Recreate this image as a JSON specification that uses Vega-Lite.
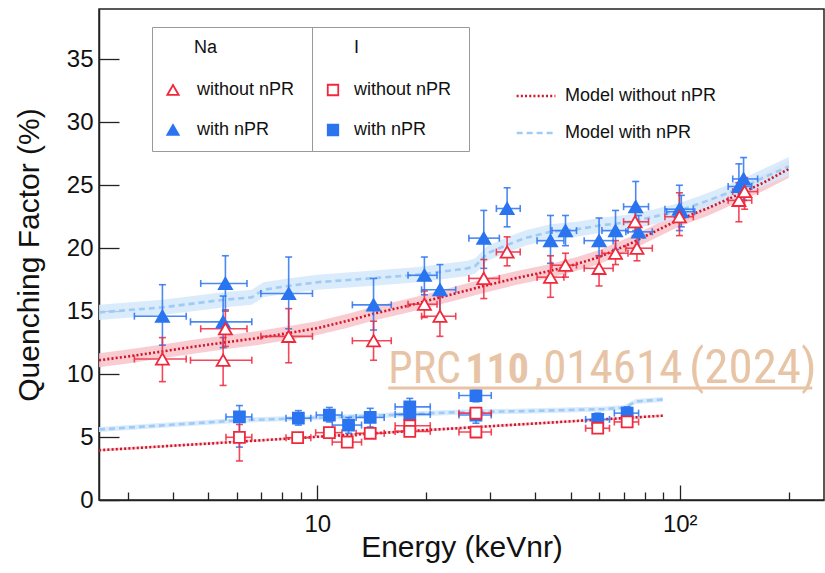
{
  "$schema": "https://vega.github.io/schema/vega-lite/v6.json",
  "width": 725,
  "height": 491,
  "autosize": {"type": "none"},
  "padding": {"left": 99, "top": 9, "right": 1, "bottom": 73},
  "background": "white",
  "config": {
    "view": {"stroke": "#222", "strokeWidth": 1.5},
    "font": "Liberation Sans",
    "axis": {"grid": false, "domainColor": "#222", "domainWidth": 1.5, "tickColor": "#222", "tickWidth": 1.3,
      "labelColor": "#111", "titleColor": "#111", "labelFont": "Liberation Sans", "titleFont": "Liberation Sans",
      "titleFontWeight": "normal", "labelFontSize": 24, "titleFontSize": 30},
    "legend": {"labelFont": "Liberation Sans", "titleFont": "Liberation Sans", "labelColor": "#111", "titleColor": "#111"}
  },
  "datasets": {
    "pts": [
      {"el":"Na","npr":"with nPR","E":3.74,"Elo":3.13,"Ehi":4.35,"Q":14.6,"Qlo":12.3,"Qhi":17.1},
      {"el":"Na","npr":"with nPR","E":5.58,"Elo":4.77,"Ehi":6.4,"Q":17.2,"Qlo":15.0,"Qhi":19.4},
      {"el":"Na","npr":"with nPR","E":5.5,"Elo":4.47,"Ehi":6.6,"Q":14.15,"Qlo":12.1,"Qhi":16.2},
      {"el":"Na","npr":"with nPR","E":8.34,"Elo":6.99,"Ehi":9.7,"Q":16.4,"Qlo":13.6,"Qhi":19.3},
      {"el":"Na","npr":"with nPR","E":14.3,"Elo":12.5,"Ehi":16.0,"Q":15.5,"Qlo":13.5,"Qhi":17.6},
      {"el":"Na","npr":"with nPR","E":19.75,"Elo":17.8,"Ehi":21.4,"Q":17.85,"Qlo":16.3,"Qhi":19.3},
      {"el":"Na","npr":"with nPR","E":21.8,"Elo":19.4,"Ehi":24.1,"Q":16.7,"Qlo":14.6,"Qhi":18.7},
      {"el":"Na","npr":"with nPR","E":28.8,"Elo":26.2,"Ehi":31.8,"Q":20.8,"Qlo":18.4,"Qhi":23.0},
      {"el":"Na","npr":"with nPR","E":33.4,"Elo":31.2,"Ehi":36.3,"Q":23.15,"Qlo":21.7,"Qhi":24.8},
      {"el":"Na","npr":"with nPR","E":44.0,"Elo":40.4,"Ehi":47.9,"Q":20.6,"Qlo":18.8,"Qhi":22.6},
      {"el":"Na","npr":"with nPR","E":48.4,"Elo":44.4,"Ehi":51.9,"Q":21.4,"Qlo":20.2,"Qhi":22.6},
      {"el":"Na","npr":"with nPR","E":59.9,"Elo":54.5,"Ehi":65.5,"Q":20.6,"Qlo":19.4,"Qhi":22.4},
      {"el":"Na","npr":"with nPR","E":66.5,"Elo":61,"Ehi":72,"Q":21.4,"Qlo":19.9,"Qhi":23.0},
      {"el":"Na","npr":"with nPR","E":75.6,"Elo":70,"Ehi":82,"Q":23.3,"Qlo":21.4,"Qhi":25.3},
      {"el":"Na","npr":"with nPR","E":77,"Elo":71,"Ehi":84,"Q":21.3,"Qlo":19.8,"Qhi":22.6},
      {"el":"Na","npr":"with nPR","E":99.8,"Elo":91,"Ehi":109,"Q":23.1,"Qlo":21.4,"Qhi":25.0},
      {"el":"Na","npr":"with nPR","E":101,"Elo":92,"Ehi":110,"Q":22.9,"Qlo":21.7,"Qhi":24.2},
      {"el":"Na","npr":"with nPR","E":145.6,"Elo":136,"Ehi":158,"Q":24.9,"Qlo":23.4,"Qhi":26.7},
      {"el":"Na","npr":"with nPR","E":150,"Elo":140,"Ehi":164,"Q":25.5,"Qlo":23.8,"Qhi":27.2},
      {"el":"Na","npr":"without nPR","E":3.74,"Elo":3.13,"Ehi":4.35,"Q":11.2,"Qlo":9.4,"Qhi":12.9},
      {"el":"Na","npr":"without nPR","E":5.5,"Elo":4.47,"Ehi":6.6,"Q":11.1,"Qlo":9.1,"Qhi":12.9},
      {"el":"Na","npr":"without nPR","E":5.58,"Elo":4.77,"Ehi":6.4,"Q":13.6,"Qlo":12.2,"Qhi":15.1},
      {"el":"Na","npr":"without nPR","E":8.34,"Elo":6.99,"Ehi":9.7,"Q":13.0,"Qlo":10.9,"Qhi":15.2},
      {"el":"Na","npr":"without nPR","E":14.3,"Elo":12.5,"Ehi":16.0,"Q":12.65,"Qlo":11.1,"Qhi":14.2},
      {"el":"Na","npr":"without nPR","E":19.75,"Elo":17.8,"Ehi":21.4,"Q":15.55,"Qlo":14.5,"Qhi":16.6},
      {"el":"Na","npr":"without nPR","E":21.8,"Elo":19.4,"Ehi":24.1,"Q":14.6,"Qlo":13.0,"Qhi":16.2},
      {"el":"Na","npr":"without nPR","E":28.8,"Elo":26.2,"Ehi":31.8,"Q":17.6,"Qlo":16.0,"Qhi":19.1},
      {"el":"Na","npr":"without nPR","E":33.4,"Elo":31.2,"Ehi":36.3,"Q":19.7,"Qlo":18.6,"Qhi":20.9},
      {"el":"Na","npr":"without nPR","E":44.0,"Elo":40.4,"Ehi":47.9,"Q":17.7,"Qlo":16.1,"Qhi":19.4},
      {"el":"Na","npr":"without nPR","E":48.4,"Elo":44.4,"Ehi":51.9,"Q":18.65,"Qlo":17.7,"Qhi":19.6},
      {"el":"Na","npr":"without nPR","E":59.9,"Elo":54.5,"Ehi":65.5,"Q":18.4,"Qlo":17.0,"Qhi":19.4},
      {"el":"Na","npr":"without nPR","E":66.5,"Elo":61,"Ehi":72,"Q":19.6,"Qlo":18.7,"Qhi":20.6},
      {"el":"Na","npr":"without nPR","E":75.3,"Elo":70,"Ehi":82,"Q":22.1,"Qlo":21.0,"Qhi":23.2},
      {"el":"Na","npr":"without nPR","E":76.2,"Elo":71,"Ehi":84,"Q":20.0,"Qlo":19.0,"Qhi":21.0},
      {"el":"Na","npr":"without nPR","E":99.8,"Elo":91,"Ehi":109,"Q":22.5,"Qlo":21.0,"Qhi":24.4},
      {"el":"Na","npr":"without nPR","E":145.6,"Elo":136,"Ehi":158,"Q":23.8,"Qlo":22.1,"Qhi":25.2},
      {"el":"Na","npr":"without nPR","E":151,"Elo":140,"Ehi":164,"Q":24.5,"Qlo":23.1,"Qhi":25.6},
      {"el":"I","npr":"with nPR","E":6.1,"Elo":5.6,"Ehi":6.6,"Q":6.6,"Qlo":4.2,"Qhi":7.5},
      {"el":"I","npr":"with nPR","E":8.87,"Elo":8.2,"Ehi":9.6,"Q":6.5,"Qlo":5.95,"Qhi":7.1},
      {"el":"I","npr":"with nPR","E":10.8,"Elo":9.94,"Ehi":11.7,"Q":6.75,"Qlo":6.2,"Qhi":7.35},
      {"el":"I","npr":"with nPR","E":12.2,"Elo":11.0,"Ehi":13.25,"Q":5.95,"Qlo":5.3,"Qhi":6.56},
      {"el":"I","npr":"with nPR","E":14.0,"Elo":12.8,"Ehi":15.3,"Q":6.56,"Qlo":5.8,"Qhi":7.28},
      {"el":"I","npr":"with nPR","E":18.0,"Elo":16.4,"Ehi":20.5,"Q":7.4,"Qlo":6.8,"Qhi":8.07},
      {"el":"I","npr":"with nPR","E":18.0,"Elo":16.4,"Ehi":20.5,"Q":6.8,"Qlo":6.1,"Qhi":7.4},
      {"el":"I","npr":"with nPR","E":27.4,"Elo":24.6,"Ehi":30.2,"Q":8.3,"Qlo":7.8,"Qhi":8.8},
      {"el":"I","npr":"with nPR","E":27.4,"Elo":24.6,"Ehi":30.2,"Q":6.75,"Qlo":6.1,"Qhi":7.3},
      {"el":"I","npr":"with nPR","E":59.4,"Elo":55,"Ehi":64,"Q":6.4,"Qlo":6.0,"Qhi":6.9},
      {"el":"I","npr":"with nPR","E":71.6,"Elo":66,"Ehi":77,"Q":6.9,"Qlo":6.4,"Qhi":7.4},
      {"el":"I","npr":"without nPR","E":6.1,"Elo":5.6,"Ehi":6.6,"Q":4.98,"Qlo":3.1,"Qhi":6.0},
      {"el":"I","npr":"without nPR","E":8.83,"Elo":8.2,"Ehi":9.6,"Q":4.95,"Qlo":4.7,"Qhi":5.25},
      {"el":"I","npr":"without nPR","E":10.8,"Elo":9.9,"Ehi":11.7,"Q":5.35,"Qlo":5.0,"Qhi":5.7},
      {"el":"I","npr":"without nPR","E":12.1,"Elo":11.0,"Ehi":13.25,"Q":4.6,"Qlo":4.25,"Qhi":4.95},
      {"el":"I","npr":"without nPR","E":14.0,"Elo":12.8,"Ehi":15.3,"Q":5.3,"Qlo":5.0,"Qhi":5.6},
      {"el":"I","npr":"without nPR","E":18.0,"Elo":16.4,"Ehi":20.5,"Q":5.9,"Qlo":5.6,"Qhi":6.3},
      {"el":"I","npr":"without nPR","E":18.0,"Elo":16.4,"Ehi":20.5,"Q":5.45,"Qlo":5.15,"Qhi":5.75},
      {"el":"I","npr":"without nPR","E":27.4,"Elo":24.6,"Ehi":30.2,"Q":5.4,"Qlo":5.1,"Qhi":5.7},
      {"el":"I","npr":"without nPR","E":27.4,"Elo":24.6,"Ehi":30.2,"Q":6.9,"Qlo":6.6,"Qhi":7.2},
      {"el":"I","npr":"without nPR","E":59.4,"Elo":55,"Ehi":64,"Q":5.7,"Qlo":5.35,"Qhi":6.0},
      {"el":"I","npr":"without nPR","E":71.6,"Elo":66,"Ehi":77,"Q":6.2,"Qlo":5.9,"Qhi":6.55}
    ],
    "model": [
      {"curve":"Na0","model":"Model without nPR","E":2.5,"Q":11.1,"lo":10.55,"hi":11.65},
      {"curve":"Na0","model":"Model without nPR","E":3.0,"Q":11.4,"lo":10.85,"hi":11.95},
      {"curve":"Na0","model":"Model without nPR","E":3.74,"Q":11.8,"lo":11.25,"hi":12.35},
      {"curve":"Na0","model":"Model without nPR","E":4.5,"Q":12.15,"lo":11.6,"hi":12.7},
      {"curve":"Na0","model":"Model without nPR","E":5.5,"Q":12.5,"lo":11.95,"hi":13.05},
      {"curve":"Na0","model":"Model without nPR","E":6.8,"Q":12.85,"lo":12.3,"hi":13.4},
      {"curve":"Na0","model":"Model without nPR","E":8.3,"Q":13.25,"lo":12.7,"hi":13.8},
      {"curve":"Na0","model":"Model without nPR","E":10,"Q":13.65,"lo":13.1,"hi":14.2},
      {"curve":"Na0","model":"Model without nPR","E":12,"Q":14.2,"lo":13.65,"hi":14.75},
      {"curve":"Na0","model":"Model without nPR","E":14.3,"Q":14.8,"lo":14.25,"hi":15.35},
      {"curve":"Na0","model":"Model without nPR","E":17,"Q":15.3,"lo":14.75,"hi":15.85},
      {"curve":"Na0","model":"Model without nPR","E":20,"Q":15.8,"lo":15.25,"hi":16.35},
      {"curve":"Na0","model":"Model without nPR","E":24,"Q":16.4,"lo":15.85,"hi":16.95},
      {"curve":"Na0","model":"Model without nPR","E":28.8,"Q":17.0,"lo":16.45,"hi":17.55},
      {"curve":"Na0","model":"Model without nPR","E":35,"Q":17.6,"lo":17.05,"hi":18.15},
      {"curve":"Na0","model":"Model without nPR","E":44,"Q":18.2,"lo":17.65,"hi":18.75},
      {"curve":"Na0","model":"Model without nPR","E":52,"Q":18.75,"lo":18.2,"hi":19.3},
      {"curve":"Na0","model":"Model without nPR","E":60,"Q":19.3,"lo":18.75,"hi":19.85},
      {"curve":"Na0","model":"Model without nPR","E":73.5,"Q":20.4,"lo":19.85,"hi":20.95},
      {"curve":"Na0","model":"Model without nPR","E":85,"Q":21.3,"lo":20.75,"hi":21.85},
      {"curve":"Na0","model":"Model without nPR","E":100,"Q":22.3,"lo":21.75,"hi":22.85},
      {"curve":"Na0","model":"Model without nPR","E":120,"Q":23.2,"lo":22.6,"hi":23.8},
      {"curve":"Na0","model":"Model without nPR","E":146,"Q":24.3,"lo":23.7,"hi":24.9},
      {"curve":"Na0","model":"Model without nPR","E":170,"Q":25.2,"lo":24.55,"hi":25.85},
      {"curve":"Na0","model":"Model without nPR","E":200,"Q":26.3,"lo":25.6,"hi":27.0},
      {"curve":"Na1","model":"Model with nPR","E":2.5,"Q":14.9,"lo":14.3,"hi":15.5},
      {"curve":"Na1","model":"Model with nPR","E":3.74,"Q":15.3,"lo":14.7,"hi":15.9},
      {"curve":"Na1","model":"Model with nPR","E":5.5,"Q":15.9,"lo":15.3,"hi":16.5},
      {"curve":"Na1","model":"Model with nPR","E":6.6,"Q":16.1,"lo":15.5,"hi":16.7},
      {"curve":"Na1","model":"Model with nPR","E":7.1,"Q":16.7,"lo":16.1,"hi":17.3},
      {"curve":"Na1","model":"Model with nPR","E":8.3,"Q":17.0,"lo":16.4,"hi":17.6},
      {"curve":"Na1","model":"Model with nPR","E":10,"Q":17.3,"lo":16.7,"hi":17.9},
      {"curve":"Na1","model":"Model with nPR","E":14,"Q":17.6,"lo":17.0,"hi":18.2},
      {"curve":"Na1","model":"Model with nPR","E":19,"Q":17.9,"lo":17.3,"hi":18.5},
      {"curve":"Na1","model":"Model with nPR","E":26,"Q":18.4,"lo":17.8,"hi":19.0},
      {"curve":"Na1","model":"Model with nPR","E":27.3,"Q":18.6,"lo":18.0,"hi":19.2},
      {"curve":"Na1","model":"Model with nPR","E":29.5,"Q":19.6,"lo":19.0,"hi":20.2},
      {"curve":"Na1","model":"Model with nPR","E":33,"Q":20.2,"lo":19.6,"hi":20.8},
      {"curve":"Na1","model":"Model with nPR","E":37.4,"Q":20.8,"lo":20.2,"hi":21.4},
      {"curve":"Na1","model":"Model with nPR","E":44,"Q":21.3,"lo":20.7,"hi":21.9},
      {"curve":"Na1","model":"Model with nPR","E":52,"Q":21.5,"lo":20.9,"hi":22.1},
      {"curve":"Na1","model":"Model with nPR","E":60,"Q":21.8,"lo":21.2,"hi":22.4},
      {"curve":"Na1","model":"Model with nPR","E":73.5,"Q":22.1,"lo":21.5,"hi":22.7},
      {"curve":"Na1","model":"Model with nPR","E":85,"Q":22.5,"lo":21.9,"hi":23.1},
      {"curve":"Na1","model":"Model with nPR","E":100,"Q":23.0,"lo":22.4,"hi":23.6},
      {"curve":"Na1","model":"Model with nPR","E":120,"Q":23.8,"lo":23.2,"hi":24.4},
      {"curve":"Na1","model":"Model with nPR","E":145,"Q":24.7,"lo":24.05,"hi":25.35},
      {"curve":"Na1","model":"Model with nPR","E":170,"Q":25.6,"lo":24.9,"hi":26.3},
      {"curve":"Na1","model":"Model with nPR","E":200,"Q":26.5,"lo":25.75,"hi":27.25},
      {"curve":"I0","model":"Model without nPR","E":2.5,"Q":3.95,"lo":3.85,"hi":4.05},
      {"curve":"I0","model":"Model without nPR","E":5,"Q":4.48,"lo":4.38,"hi":4.58},
      {"curve":"I0","model":"Model without nPR","E":10,"Q":5.02,"lo":4.92,"hi":5.12},
      {"curve":"I0","model":"Model without nPR","E":20,"Q":5.55,"lo":5.45,"hi":5.65},
      {"curve":"I0","model":"Model without nPR","E":40,"Q":6.08,"lo":5.98,"hi":6.18},
      {"curve":"I0","model":"Model without nPR","E":90,"Q":6.7,"lo":6.6,"hi":6.8},
      {"curve":"I1","model":"Model with nPR","E":2.5,"Q":5.6,"lo":5.4,"hi":5.8},
      {"curve":"I1","model":"Model with nPR","E":6.13,"Q":6.33,"lo":6.13,"hi":6.53},
      {"curve":"I1","model":"Model with nPR","E":13.7,"Q":6.67,"lo":6.47,"hi":6.87},
      {"curve":"I1","model":"Model with nPR","E":23.5,"Q":6.96,"lo":6.76,"hi":7.16},
      {"curve":"I1","model":"Model with nPR","E":37.4,"Q":7.06,"lo":6.86,"hi":7.26},
      {"curve":"I1","model":"Model with nPR","E":61.7,"Q":7.22,"lo":7.02,"hi":7.42},
      {"curve":"I1","model":"Model with nPR","E":70.5,"Q":7.34,"lo":7.14,"hi":7.54},
      {"curve":"I1","model":"Model with nPR","E":75.6,"Q":7.83,"lo":7.63,"hi":8.03},
      {"curve":"I1","model":"Model with nPR","E":89.8,"Q":7.98,"lo":7.78,"hi":8.18}
    ]
  },
  "layer": [
    {
      "data": {"name": "model"},
      "mark": {"type": "area", "opacity": 0.85},
      "encoding": {
        "x": {"field": "E", "type": "quantitative", "title": "Energy (keVnr)", "scale": {"type": "log", "domain": [2.5, 250], "nice": false},
          "axis": {"title": "Energy (keVnr)", "values": [3,4,5,6,7,8,9,10,20,30,40,50,60,70,80,90,100,200],
            "labelExpr": "datum.value == 10 ? '10' : datum.value == 100 ? '10²' : ''",
            "tickSize": {"condition": {"test": "datum.value == 10 || datum.value == 100", "value": -15}, "value": -8},
            "labelPadding": 27, "titlePadding": -11, "labelFlush": false, "labelOverlap": false}},
        "y": {"field": "lo", "type": "quantitative", "title": "Quenching Factor (%)", "scale": {"domain": [0, 39], "nice": false, "zero": false},
          "axis": {"title": "Quenching Factor (%)", "values": [0,5,10,15,20,25,30,35], "tickSize": -20,
            "labelPadding": 26, "titlePadding": 22}},
        "y2": {"field": "hi"},
        "fill": {"field": "model", "type": "nominal", "scale": {"domain": ["Model without nPR", "Model with nPR"], "range": ["#f7c3c9", "#d3e8fb"]}, "legend": null},
        "detail": {"field": "curve"}
      }
    },
    {
      "data": {"name": "model"},
      "mark": {"type": "line", "strokeWidth": 2.6},
      "encoding": {
        "x": {"field": "E", "type": "quantitative", "title": "Energy (keVnr)"},
        "y": {"field": "Q", "type": "quantitative", "title": "Quenching Factor (%)"},
        "stroke": {"field": "model", "type": "nominal", "scale": {"domain": ["Model without nPR", "Model with nPR"], "range": ["#d0142a", "#9fcbf5"]},
          "legend": {"title": null, "orient": "none", "legendX": 416, "legendY": 66, "padding": 0, "symbolType": "stroke", "symbolSize": 1500,
            "symbolStrokeWidth": 2.6, "labelFontSize": 18, "labelOffset": 8, "rowPadding": 7}},
        "strokeDash": {"field": "model", "type": "nominal", "scale": {"domain": ["Model without nPR", "Model with nPR"], "range": [[2, 2.2], [6, 4]]},
          "legend": {"title": null, "orient": "none", "legendX": 416, "legendY": 66, "padding": 0, "symbolType": "stroke", "symbolSize": 1500,
            "symbolStrokeWidth": 2.6, "labelFontSize": 18, "labelOffset": 8, "rowPadding": 7}},
        "detail": {"field": "curve"}
      }
    },
    {
      "data": {"name": "pts"},
      "mark": {"type": "errorbar", "ticks": {"size": 7}, "thickness": 1.6, "opacity": 0.85},
      "encoding": {
        "x": {"field": "E", "type": "quantitative", "title": "Energy (keVnr)"},
        "y": {"field": "Qlo", "type": "quantitative", "title": "Quenching Factor (%)"},
        "y2": {"field": "Qhi"},
        "color": {"field": "npr", "type": "nominal", "scale": {"domain": ["without nPR", "with nPR"], "range": ["#f0283c", "#2a74f0"]}, "legend": null}
      }
    },
    {
      "data": {"name": "pts"},
      "mark": {"type": "errorbar", "ticks": {"size": 7}, "thickness": 1.6, "opacity": 0.85},
      "encoding": {
        "y": {"field": "Q", "type": "quantitative", "title": "Quenching Factor (%)"},
        "x": {"field": "Elo", "type": "quantitative", "title": "Energy (keVnr)"},
        "x2": {"field": "Ehi"},
        "color": {"field": "npr", "type": "nominal", "scale": {"domain": ["without nPR", "with nPR"], "range": ["#f0283c", "#2a74f0"]}, "legend": null}
      }
    },
    {
      "data": {"name": "pts"},
      "transform": [{"filter": "datum.el == 'Na'"}],
      "mark": {"type": "point", "filled": true, "strokeWidth": 1.8, "opacity": 1, "size": 170},
      "encoding": {
        "x": {"field": "E", "type": "quantitative", "title": "Energy (keVnr)"},
        "y": {"field": "Q", "type": "quantitative", "title": "Quenching Factor (%)"},
        "shape": {"field": "npr", "type": "nominal", "scale": {"domain": ["without nPR", "with nPR"], "range": ["triangle-up", "triangle-up"]},
          "legend": {"title": "\u200b\u00a0\u00a0\u00a0\u00a0\u00a0\u00a0Na", "orient": "none", "legendX": 53, "legendY": 18, "padding": 12,
            "strokeColor": "#999", "fillColor": "white", "titleFontSize": 18, "titleFontWeight": "normal", "labelFontSize": 18,
            "symbolSize": 130, "symbolStrokeWidth": 1.8, "rowPadding": 22, "titlePadding": 24, "labelOffset": 15,
            "labelExpr": "datum.label + '\u00a0\u00a0\u00a0\u200b'"}},
        "stroke": {"field": "npr", "type": "nominal", "scale": {"domain": ["without nPR", "with nPR"], "range": ["#f0283c", "#2a74f0"]},
          "legend": {"title": "\u200b\u00a0\u00a0\u00a0\u00a0\u00a0\u00a0Na", "orient": "none", "legendX": 53, "legendY": 18, "padding": 12,
            "strokeColor": "#999", "fillColor": "white", "titleFontSize": 18, "titleFontWeight": "normal", "labelFontSize": 18,
            "symbolSize": 130, "symbolStrokeWidth": 1.8, "rowPadding": 22, "titlePadding": 24, "labelOffset": 15,
            "labelExpr": "datum.label + '\u00a0\u00a0\u00a0\u200b'"}},
        "fill": {"field": "npr", "type": "nominal", "scale": {"domain": ["without nPR", "with nPR"], "range": ["white", "#2a74f0"]},
          "legend": {"title": "\u200b\u00a0\u00a0\u00a0\u00a0\u00a0\u00a0Na", "orient": "none", "legendX": 53, "legendY": 18, "padding": 12,
            "strokeColor": "#999", "fillColor": "white", "titleFontSize": 18, "titleFontWeight": "normal", "labelFontSize": 18,
            "symbolSize": 130, "symbolStrokeWidth": 1.8, "rowPadding": 22, "titlePadding": 24, "labelOffset": 15,
            "labelExpr": "datum.label + '\u00a0\u00a0\u00a0\u200b'"}}
      }
    },
    {
      "data": {"name": "pts"},
      "transform": [{"filter": "datum.el == 'I'"}],
      "mark": {"type": "point", "filled": true, "strokeWidth": 1.8, "opacity": 1, "size": 120},
      "encoding": {
        "x": {"field": "E", "type": "quantitative", "title": "Energy (keVnr)"},
        "y": {"field": "Q", "type": "quantitative", "title": "Quenching Factor (%)"},
        "shape": {"field": "npr", "type": "nominal", "scale": {"domain": ["without nPR", "with nPR"], "range": ["square", "square"]},
          "legend": {"title": "\u200b\u00a0\u00a0\u00a0\u00a0\u00a0\u00a0I", "orient": "none", "legendX": 213, "legendY": 18, "padding": 12,
            "strokeColor": "#999", "fillColor": "white", "titleFontSize": 18, "titleFontWeight": "normal", "labelFontSize": 18,
            "symbolSize": 110, "symbolStrokeWidth": 1.8, "rowPadding": 22, "titlePadding": 24, "labelOffset": 12,
            "labelExpr": "datum.label + '\u00a0\u200b'"}},
        "stroke": {"field": "npr", "type": "nominal", "scale": {"domain": ["without nPR", "with nPR"], "range": ["#f0283c", "#2a74f0"]},
          "legend": {"title": "\u200b\u00a0\u00a0\u00a0\u00a0\u00a0\u00a0I", "orient": "none", "legendX": 213, "legendY": 18, "padding": 12,
            "strokeColor": "#999", "fillColor": "white", "titleFontSize": 18, "titleFontWeight": "normal", "labelFontSize": 18,
            "symbolSize": 110, "symbolStrokeWidth": 1.8, "rowPadding": 22, "titlePadding": 24, "labelOffset": 12,
            "labelExpr": "datum.label + '\u00a0\u200b'"}},
        "fill": {"field": "npr", "type": "nominal", "scale": {"domain": ["without nPR", "with nPR"], "range": ["white", "#2a74f0"]},
          "legend": {"title": "\u200b\u00a0\u00a0\u00a0\u00a0\u00a0\u00a0I", "orient": "none", "legendX": 213, "legendY": 18, "padding": 12,
            "strokeColor": "#999", "fillColor": "white", "titleFontSize": 18, "titleFontWeight": "normal", "labelFontSize": 18,
            "symbolSize": 110, "symbolStrokeWidth": 1.8, "rowPadding": 22, "titlePadding": 24, "labelOffset": 12,
            "labelExpr": "datum.label + '\u00a0\u200b'"}}
      }
    },
    {
      "data": {"values": [{}]},
      "mark": {"type": "text", "text": "PRC", "font": "Roboto Condensed, DejaVu Sans Condensed, Liberation Sans Narrow, Roboto", "fontSize": 44, "align": "left", "baseline": "alphabetic", "color": "#e8c4a6"},
      "encoding": {"x": {"datum": 15.7, "type": "quantitative"}, "y": {"datum": 9.29, "type": "quantitative"}}
    },
    {
      "data": {"values": [{}]},
      "mark": {"type": "text", "text": "110", "font": "Roboto Condensed, DejaVu Sans Condensed, Liberation Sans Narrow, Roboto", "fontWeight": "bold", "fontSize": 42, "align": "left", "baseline": "alphabetic", "color": "#e8c4a6"},
      "encoding": {"x": {"datum": 25.6, "type": "quantitative"}, "y": {"datum": 9.29, "type": "quantitative"}}
    },
    {
      "data": {"values": [{}]},
      "mark": {"type": "text", "text": ",014614", "font": "Roboto Condensed, DejaVu Sans Condensed, Liberation Sans Narrow, Roboto", "fontSize": 47, "align": "left", "baseline": "alphabetic", "color": "#e8c4a6"},
      "encoding": {"x": {"datum": 39.6, "type": "quantitative"}, "y": {"datum": 9.29, "type": "quantitative"}}
    },
    {
      "data": {"values": [{}]},
      "mark": {"type": "text", "text": "(2024)", "font": "Roboto Condensed, DejaVu Sans Condensed, Liberation Sans Narrow, Roboto", "fontSize": 49, "align": "left", "baseline": "alphabetic", "color": "#e8c4a6"},
      "encoding": {"x": {"datum": 106.0, "type": "quantitative"}, "y": {"datum": 9.29, "type": "quantitative"}}
    },
    {
      "data": {"values": [{}]},
      "mark": {"type": "rule", "strokeWidth": 3, "color": "#e8c4a6"},
      "encoding": {"x": {"datum": 15.7, "type": "quantitative"}, "x2": {"datum": 232}, "y": {"datum": 8.9, "type": "quantitative"}}
    }
  ],
  "resolve": {"scale": {"color": "independent", "fill": "independent", "stroke": "independent", "shape": "independent", "strokeDash": "independent"}}
}
